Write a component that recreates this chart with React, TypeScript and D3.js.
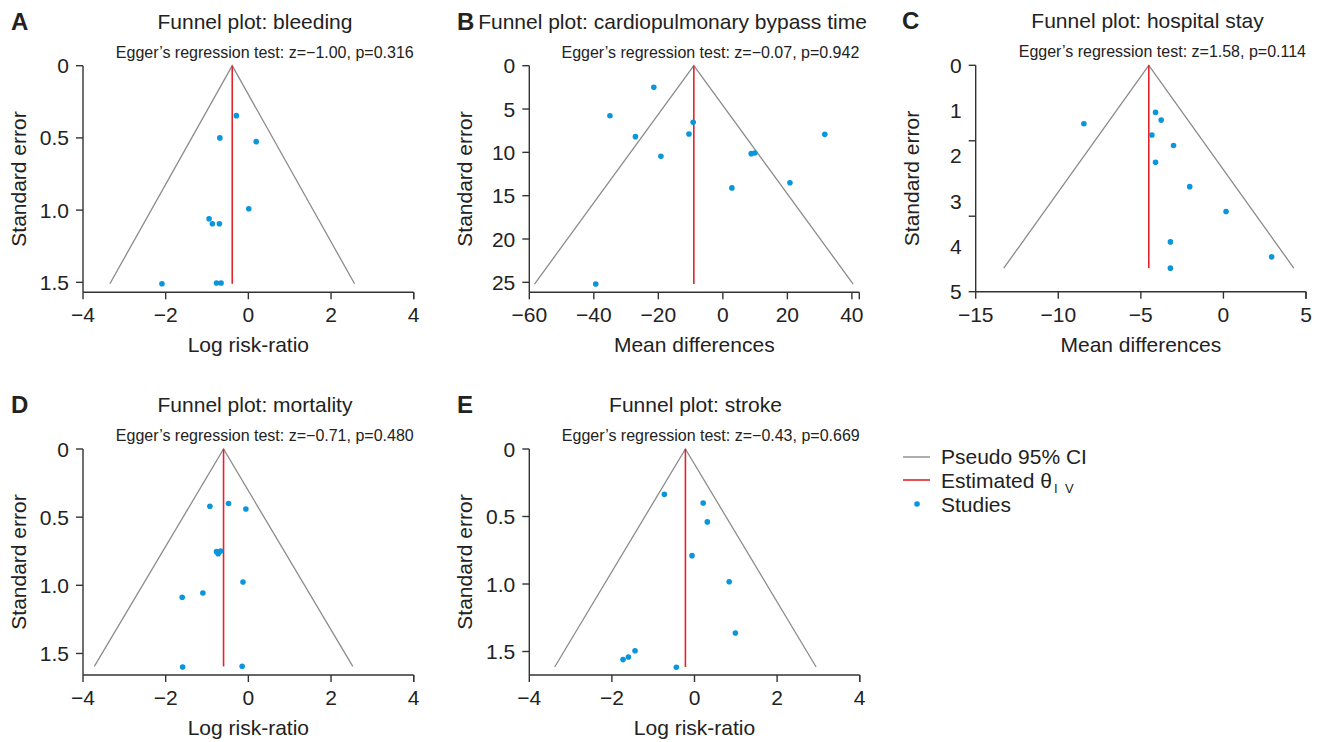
import React from 'react';
import * as d3 from 'd3';

const FONT = '"Liberation Sans", Arial, Helvetica, sans-serif';
const DOT = '#0b95da';
const RED = '#e5222a';
const GRAY = '#8c8c8c';
const AXIS = '#333333';

// A: bleeding (log risk-ratio, standard error)
const bleedingLRR = [-0.29, -0.69, 0.19, 0.01, -0.95, -0.87, -0.70, -2.09, -0.77, -0.66];
const bleedingSE = [0.346, 0.50, 0.526, 0.99, 1.06, 1.094, 1.094, 1.51, 1.505, 1.505];
const bleedingTheta = -0.39;
const bleedingSEMax = 1.51;

// B: cardiopulmonary bypass time (mean differences, standard error)
const cpbMD = [-21.4, -35.0, -27.1, -19.2, -9.2, -10.5, 8.8, 9.9, 2.8, 20.8, 31.6, -39.4];
const cpbSE = [2.5, 5.77, 8.19, 10.46, 6.54, 7.88, 10.15, 10.08, 14.1, 13.5, 7.92, 25.2];
const cpbTheta = -9.0;
const cpbSEMax = 25.2;

// C: hospital stay
const stayMD = [-8.45, -4.11, -3.77, -4.33, -3.02, -4.11, -2.04, 0.16, -3.21, 2.92, -3.21];
const staySE = [1.29, 1.04, 1.21, 1.54, 1.77, 2.14, 2.68, 3.23, 3.90, 4.23, 4.48];
const stayTheta = -4.52;
const staySEMax = 4.48;

// D: mortality
const mortLRR = [-0.93, -0.48, -0.06, -0.77, -0.73, -0.67, -0.13, -1.10, -1.60, -1.59, -0.15];
const mortSE = [0.42, 0.40, 0.44, 0.753, 0.768, 0.748, 0.976, 1.056, 1.088, 1.60, 1.594];
const mortTheta = -0.60;
const mortSEMax = 1.595;

// E: stroke
const strokeLRR = [-0.73, 0.21, 0.31, -0.06, 0.84, 0.99, -1.44, -1.60, -1.73, -0.44];
const strokeSE = [0.336, 0.40, 0.54, 0.79, 0.983, 1.363, 1.494, 1.541, 1.56, 1.617];
const strokeTheta = -0.22;
const strokeSEMax = 1.615;

// ticks
const lrrXTicks = [-4, -2, 0, 2, 4];
const lrrYTicks = [0, 0.5, 1.0, 1.5];
const cpbXTicks = [-60, -40, -20, 0, 20, 40];
const cpbYTicks = [0, 5, 10, 15, 20, 25];
const stayXTicks = [-15, -10, -5, 0, 5];
const stayYTickLabels = [0, 1, 2, 3, 4, 5];
const stayYTickMarks = [0, 1.667, 3.333, 5];

const fmtY1 = (v: number) => (v === 0 ? '0' : d3.format('.1f')(v));
const fmtInt = (v: number) => d3.format('d')(v);

type PanelProps = {
  letter: string;
  letterX: number;
  title: string;
  titleX: number;
  egger: string;
  xLabel: string;
  px: [number, number];
  py: [number, number];
  xDomain: [number, number];
  yDomain: [number, number];
  xTicks: number[];
  yTicks: number[];
  yTickMarks?: number[];
  yFmt: (v: number) => string;
  xs: number[];
  ses: number[];
  theta: number;
  seMax: number;
};

function Panel(p: PanelProps) {
  const x = d3.scaleLinear().domain(p.xDomain).range(p.px);
  const y = d3.scaleLinear().domain(p.yDomain).range(p.py);
  const [x0, x1] = p.px;
  const [y0, y1] = p.py;
  const tick = 7;
  const marks = p.yTickMarks ?? p.yTicks;
  const half = 1.96 * p.seMax;
  const funnel = d3.line<[number, number]>()
    .x((d) => x(d[0]))
    .y((d) => y(d[1]));
  const fpts: [number, number][] = [
    [p.theta - half, p.seMax],
    [p.theta, 0],
    [p.theta + half, p.seMax],
  ];
  return (
    <g fontFamily={FONT}>
      <text x={p.letterX} y={y0 - 36} fontSize={24} fontWeight="bold" fill="#222">{p.letter}</text>
      <text x={p.titleX} y={y0 - 37} fontSize={21} textAnchor="middle" fill="#222">{p.title}</text>
      <text x={x1} y={y0 - 8} fontSize={16} textAnchor="end" fill="#222">{p.egger}</text>
      {/* funnel */}
      <path d={funnel(fpts) || ''} fill="none" stroke={GRAY} strokeWidth={1.3} />
      <line x1={x(p.theta)} x2={x(p.theta)} y1={y(0)} y2={y(p.seMax)} stroke={RED} strokeWidth={1.6} />
      {p.xs.map((v, i) => (
        <circle key={i} cx={x(v)} cy={y(p.ses[i])} r={2.8} fill={DOT} />
      ))}
      {/* axes */}
      <line x1={x0} x2={x0} y1={y0} y2={y1} stroke={AXIS} strokeWidth={1.4} />
      <line x1={x0} x2={x1} y1={y1} y2={y1} stroke={AXIS} strokeWidth={1.4} />
      {marks.map((t, i) => (
        <line key={'ym' + i} x1={x0 - tick} x2={x0} y1={y(t)} y2={y(t)} stroke={AXIS} strokeWidth={1.4} />
      ))}
      {p.yTicks.map((t, i) => (
        <text key={'yl' + i} x={x0 - 14} y={y(t)} dy="0.36em" fontSize={21} textAnchor="end" fill="#222">{p.yFmt(t)}</text>
      ))}
      {p.xTicks.map((t, i) => (
        <g key={'x' + i}>
          <line x1={x(t)} x2={x(t)} y1={y1} y2={y1 + tick} stroke={AXIS} strokeWidth={1.4} />
          <text x={x(t)} y={y1 + 30} fontSize={21} textAnchor="middle" fill="#222">{d3.format('')(t).replace('-', '\u2212')}</text>
        </g>
      ))}
      <line x1={x1} x2={x1} y1={y1} y2={y1 + tick} stroke={AXIS} strokeWidth={1.4} />
      <text x={(x0 + x1) / 2} y={y1 + 60} fontSize={21} textAnchor="middle" fill="#222">{p.xLabel}</text>
      <text transform={`translate(${x0 - 57},${(y0 + y1) / 2}) rotate(-90)`} fontSize={21} textAnchor="middle" fill="#222">Standard error</text>
    </g>
  );
}

function Legend() {
  const lx = 903;
  const tx = 941;
  return (
    <g fontFamily={FONT} fontSize={21} fill="#222">
      <line x1={lx} x2={lx + 27} y1={457} y2={457} stroke={GRAY} strokeWidth={1.4} />
      <text x={tx} y={464}>Pseudo 95% CI</text>
      <line x1={lx} x2={lx + 27} y1={480} y2={480} stroke={RED} strokeWidth={1.6} />
      <text x={tx} y={488}>
        Estimated θ
        <tspan fontSize={13} dy={5} dx={2} letterSpacing={2}>I V</tspan>
      </text>
      <circle cx={917} cy={504} r={2.8} fill={DOT} />
      <text x={tx} y={512}>Studies</text>
    </g>
  );
}

export default function App() {
  return (
    <svg width={1321} height={742} style={{ position: 'absolute', left: 0, top: 0, background: '#fff' }}>
      <rect width={1321} height={742} fill="#fff" />
      <Panel
        letter="A" letterX={11} title="Funnel plot: bleeding" titleX={255}
        egger="Egger’s regression test: z=−1.00, p=0.316" xLabel="Log risk-ratio"
        px={[83, 413.7]} py={[65.7, 292.3]} xDomain={[-4, 4]} yDomain={[0, 1.569]}
        xTicks={lrrXTicks} yTicks={lrrYTicks} yFmt={fmtY1}
        xs={bleedingLRR} ses={bleedingSE} theta={bleedingTheta} seMax={bleedingSEMax}
      />
      <Panel
        letter="B" letterX={457} title="Funnel plot: cardiopulmonary bypass time" titleX={672.5}
        egger="Egger’s regression test: z=−0.07, p=0.942" xLabel="Mean differences"
        px={[529.3, 859.3]} py={[65.7, 292.3]} xDomain={[-60, 42.3]} yDomain={[0, 26.15]}
        xTicks={cpbXTicks} yTicks={cpbYTicks} yFmt={fmtInt}
        xs={cpbMD} ses={cpbSE} theta={cpbTheta} seMax={cpbSEMax}
      />
      <Panel
        letter="C" letterX={902} title="Funnel plot: hospital stay" titleX={1147.5}
        egger="Egger’s regression test: z=1.58, p=0.114" xLabel="Mean differences"
        px={[975.7, 1306]} py={[65.3, 291.7]} xDomain={[-15, 5]} yDomain={[0, 5]}
        xTicks={stayXTicks} yTicks={stayYTickLabels} yTickMarks={stayYTickMarks} yFmt={fmtInt}
        xs={stayMD} ses={staySE} theta={stayTheta} seMax={staySEMax}
      />
      <Panel
        letter="D" letterX={11} title="Funnel plot: mortality" titleX={255}
        egger="Egger’s regression test: z=−0.71, p=0.480" xLabel="Log risk-ratio"
        px={[83, 413.7]} py={[449, 675]} xDomain={[-4, 4]} yDomain={[0, 1.658]}
        xTicks={lrrXTicks} yTicks={lrrYTicks} yFmt={fmtY1}
        xs={mortLRR} ses={mortSE} theta={mortTheta} seMax={mortSEMax}
      />
      <Panel
        letter="E" letterX={457} title="Funnel plot: stroke" titleX={695.5}
        egger="Egger’s regression test: z=−0.43, p=0.669" xLabel="Log risk-ratio"
        px={[529.3, 859.7]} py={[449, 675]} xDomain={[-4, 4]} yDomain={[0, 1.674]}
        xTicks={lrrXTicks} yTicks={lrrYTicks} yFmt={fmtY1}
        xs={strokeLRR} ses={strokeSE} theta={strokeTheta} seMax={strokeSEMax}
      />
      <Legend />
    </svg>
  );
}
